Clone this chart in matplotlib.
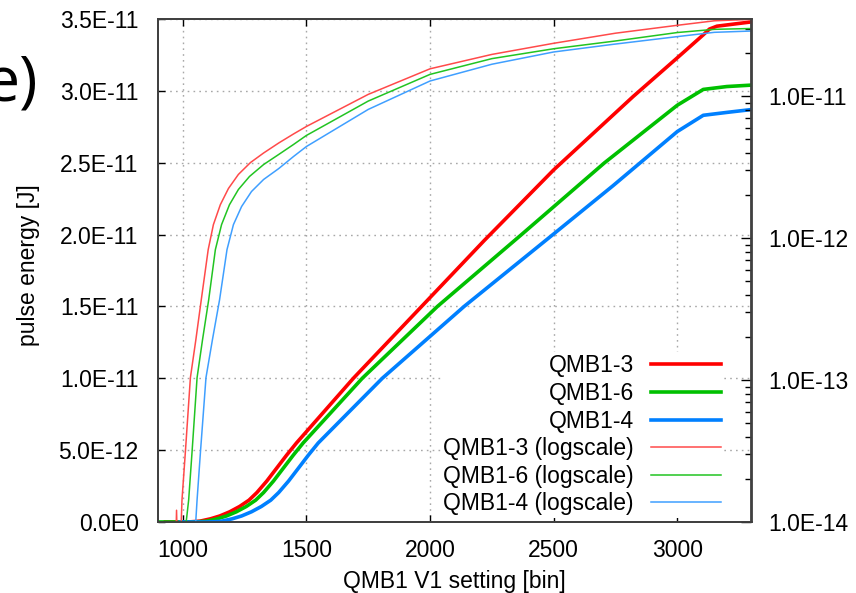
import matplotlib
matplotlib.use('Agg')
import matplotlib.pyplot as plt
from matplotlib.ticker import FixedLocator, FixedFormatter, LogLocator, NullFormatter

plt.rcParams['font.family'] = ['Liberation Sans', 'DejaVu Sans']

# ---- linear-scale curves (left axis) ----
x_r = [930, 1000, 1030, 1070, 1112, 1150, 1190, 1230, 1268, 1300, 1340, 1380, 1420, 1460, 1690, 1955,
       2220, 2500, 2821, 3000, 3105, 3130, 3160, 3300]
y_r = [0, 0, 0.01e-12, 0.06e-12, 0.22e-12, 0.42e-12, 0.71e-12, 1.08e-12, 1.52e-12, 2.05e-12, 2.85e-12,
       3.75e-12, 4.65e-12, 5.5e-12, 1.0e-11, 1.48e-11, 1.96e-11, 2.45e-11, 2.96e-11, 3.23e-11, 3.39e-11,
       3.43e-11, 3.45e-11, 3.48e-11]
x_g = [900, 1040, 1057, 1097, 1139, 1177, 1217, 1257, 1295, 1327, 1367, 1407, 1447, 1487, 1726, 2030,
       2370, 2706, 3000, 3105, 3200, 3300]
y_g = [0, 0, 0.01e-12, 0.06e-12, 0.22e-12, 0.42e-12, 0.71e-12, 1.08e-12, 1.52e-12, 2.05e-12, 2.85e-12,
       3.75e-12, 4.65e-12, 5.5e-12, 1.0e-11, 1.5e-11, 2.0e-11, 2.5e-11, 2.9e-11, 3.01e-11, 3.03e-11, 3.04e-11]
x_b = [990, 1090, 1118, 1158, 1200, 1238, 1278, 1318, 1356, 1388, 1428, 1468, 1508, 1548, 1807, 2138,
       2497, 2740, 3000, 3105, 3200, 3300]
y_b = [0, 0, 0.01e-12, 0.06e-12, 0.22e-12, 0.42e-12, 0.71e-12, 1.08e-12, 1.52e-12, 2.05e-12, 2.85e-12,
       3.75e-12, 4.65e-12, 5.5e-12, 1.0e-11, 1.5e-11, 2.0e-11, 2.34e-11, 2.717e-11, 2.83e-11, 2.85e-11,
       2.87e-11]

# ---- log-scale curves (right axis) ----
xl_r = [970, 975, 980, 992, 997, 1011, 1031, 1053, 1075, 1103, 1124, 1152, 1185, 1225, 1274, 1327, 1388,
        1448, 1500, 1750, 2000, 2250, 2500, 2750, 3000, 3150, 3300]
yl_r = [5e-15, 1.21e-14, 5e-15, 8e-15, 1.43e-14, 3.17e-14, 1.04e-13, 1.92e-13, 3.68e-13, 8.3e-13, 1.245e-12,
        1.72e-12, 2.24e-12, 2.81e-12, 3.41e-12, 3.98e-12, 4.68e-12, 5.42e-12, 6.12e-12, 1.03e-11, 1.56e-11,
        1.97e-11, 2.36e-11, 2.78e-11, 3.16e-11, 3.40e-11, 3.48e-11]
xl_g = [1011, 1024, 1038, 1058, 1080, 1105, 1132, 1157, 1189, 1225, 1270, 1327, 1388, 1448, 1500, 1750,
        2000, 2250, 2500, 2750, 3000, 3150, 3300]
yl_g = [9e-15, 1.43e-14, 3.17e-14, 1.04e-13, 1.92e-13, 3.68e-13, 8.3e-13, 1.245e-12, 1.72e-12, 2.2e-12,
        2.72e-12, 3.30e-12, 3.885e-12, 4.57e-12, 5.29e-12, 9.24e-12, 1.425e-11, 1.84e-11, 2.16e-11, 2.45e-11,
        2.81e-11, 2.96e-11, 3.0e-11]
xl_b = [1051, 1058, 1072, 1094, 1120, 1149, 1179, 1205, 1238, 1278, 1327, 1388, 1448, 1500, 1750, 2000,
        2250, 2500, 2740, 3000, 3150, 3300]
yl_b = [9e-15, 1.43e-14, 3.17e-14, 1.04e-13, 1.92e-13, 3.68e-13, 8.3e-13, 1.245e-12, 1.67e-12, 2.13e-12,
        2.59e-12, 3.09e-12, 3.76e-12, 4.42e-12, 8.07e-12, 1.28e-11, 1.68e-11, 2.05e-11, 2.32e-11, 2.63e-11,
        2.82e-11, 2.88e-11]

labels = ['QMB1-3', 'QMB1-6', 'QMB1-4',
          'QMB1-3 (logscale)', 'QMB1-6 (logscale)', 'QMB1-4 (logscale)']

x_ticks = [1000, 1500, 2000, 2500, 3000]
y_ticks = [0, 5e-12, 1e-11, 1.5e-11, 2e-11, 2.5e-11, 3e-11, 3.5e-11]
y_tick_labels = ['0.0E0', '5.0E-12', '1.0E-11', '1.5E-11', '2.0E-11', '2.5E-11', '3.0E-11', '3.5E-11']
y2_ticks = [1e-14, 1e-13, 1e-12, 1e-11]
y2_tick_labels = ['1.0E-14', '1.0E-13', '1.0E-12', '1.0E-11']

FS = 16.5
c_r, c_g, c_b = '#ff0000', '#00c000', '#0080ff'
cl_r, cl_g, cl_b = '#ff4a4a', '#22c422', '#3f9fff'
spine_c = '#404040'

fig = plt.figure(figsize=(8.56, 5.93), dpi=100)
ax = fig.add_axes([158 / 856, (593 - 522) / 593, (751.5 - 158) / 856, (522 - 19) / 593])

h1, = ax.plot(x_r, y_r, color=c_r, lw=2.6, zorder=3)
h2, = ax.plot(x_g, y_g, color=c_g, lw=2.6, zorder=3)
h3, = ax.plot(x_b, y_b, color=c_b, lw=2.6, zorder=3)

ax.set_xlim(900, 3300)
ax.set_ylim(0, 3.5e-11)
ax.xaxis.set_major_locator(FixedLocator(x_ticks))
ax.yaxis.set_major_locator(FixedLocator(y_ticks))
ax.yaxis.set_major_formatter(FixedFormatter(y_tick_labels))
ax.grid(True, color='#a8a8a8', linestyle=(0, (1.2, 3.0)), linewidth=1.0)
ax.tick_params(axis='x', direction='in', length=5, width=1, top=True, labelsize=FS, pad=12,
               colors='black')
ax.tick_params(axis='y', direction='in', length=5, width=1, right=False, labelsize=FS, pad=14,
               colors='black')
for s in ax.spines.values():
    s.set_color(spine_c)
    s.set_linewidth(1.3)
ax.set_xlabel('QMB1 V1 setting [bin]', fontsize=FS)
ax.set_ylabel('pulse energy [J]', fontsize=FS)
ax.xaxis.set_label_coords(0.5, -0.095)
ax.yaxis.set_label_coords(-0.198, 0.51)

ax2 = ax.twinx()
h4, = ax2.plot(xl_r, yl_r, color=cl_r, lw=1.1)
h5, = ax2.plot(xl_g, yl_g, color=cl_g, lw=1.1)
h6, = ax2.plot(xl_b, yl_b, color=cl_b, lw=1.1)
ax2.set_yscale('log')
ax2.set_ylim(1e-14, 3.5e-11)
ax2.yaxis.set_major_locator(FixedLocator(y2_ticks))
ax2.yaxis.set_major_formatter(FixedFormatter(y2_tick_labels))
ax2.yaxis.set_minor_locator(LogLocator(base=10, subs=range(2, 10)))
ax2.yaxis.set_minor_formatter(NullFormatter())
ax2.tick_params(axis='y', which='major', direction='in', length=7, width=1, labelsize=FS, pad=12)
ax2.tick_params(axis='y', which='minor', direction='in', length=4, width=1)
for s in ax2.spines.values():
    s.set_color(spine_c)
    s.set_linewidth(1.3)

leg = ax2.legend([h1, h2, h3, h4, h5, h6], labels, loc='lower right',
                 bbox_to_anchor=(0.952, 0.0087), markerfirst=False, fontsize=FS,
                 handlelength=3.05, handletextpad=0.75, labelspacing=0.2,
                 borderpad=0.1, borderaxespad=0.0, frameon=True, fancybox=False)
leg.get_frame().set_facecolor('white')
leg.get_frame().set_edgecolor('none')
leg.get_frame().set_alpha(1.0)

fig.text(38 / 856, (593 - 100) / 593, 'e)', fontsize=45, family=['Open Sans', 'DejaVu Sans'],
         ha='right', va='baseline')

fig.savefig('out.png', dpi=100)
